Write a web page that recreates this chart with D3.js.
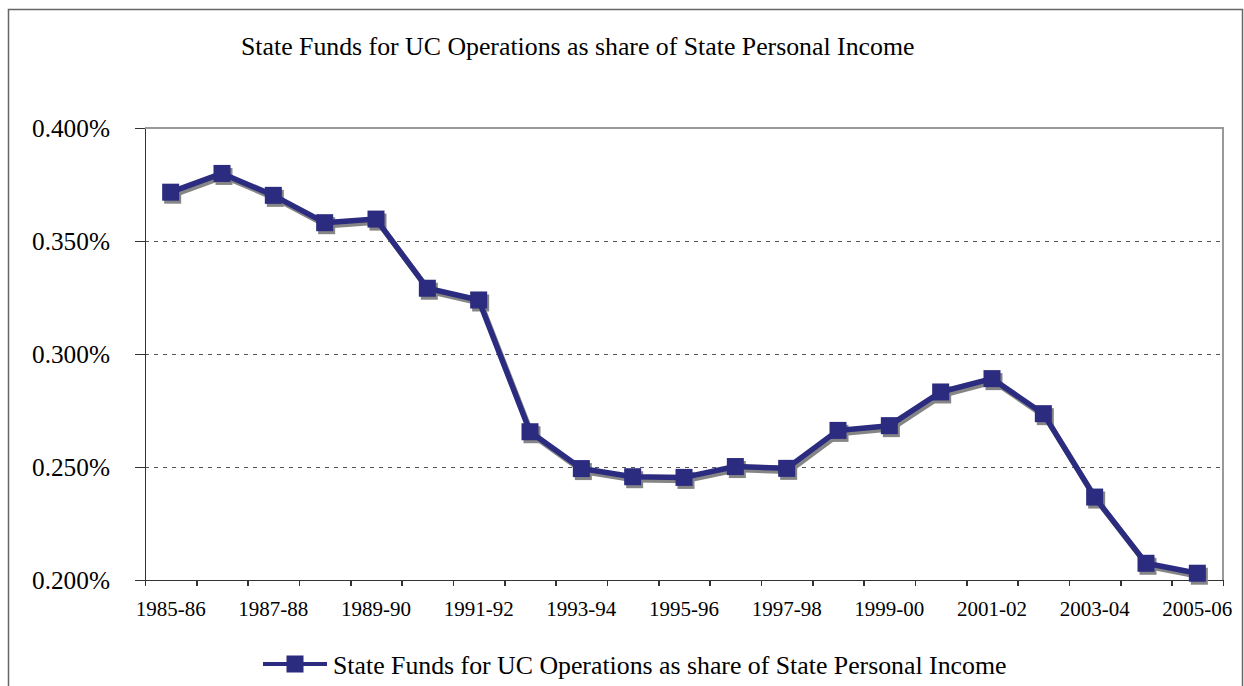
<!DOCTYPE html>
<meta charset="utf-8">
<style>
body { margin: 0; background: #fff; }
.grid line { stroke: #555; stroke-dasharray: 4,5; stroke-width: 1; }
.axis path, .axis line { stroke: #333; stroke-width: 1.5; shape-rendering: crispEdges; }
</style>
<body>
<div id="plotHere"></div>
<script src="https://cdn.jsdelivr.net/npm/d3@7"></script>
<script>
// ---------------- data ----------------
const title = "State Funds for UC Operations as share of State Personal Income";
const years = ["1985-86","1986-87","1987-88","1988-89","1989-90","1990-91","1991-92",
               "1992-93","1993-94","1994-95","1995-96","1996-97","1997-98","1998-99",
               "1999-00","2000-01","2001-02","2002-03","2003-04","2004-05","2005-06"];
// percent of state personal income
const share = [0.3716, 0.3799, 0.3702, 0.3581, 0.3597, 0.3291, 0.3239,
               0.2656, 0.2493, 0.2457, 0.2454, 0.2502, 0.2494, 0.2662,
               0.2683, 0.2832, 0.2891, 0.2736, 0.2367, 0.2074, 0.2030];
const yTicks = [0.200, 0.250, 0.300, 0.350, 0.400];

// ---------------- svg ----------------
const W = 1244, H = 686;
const plot = {left: 145, right: 1223, top: 128, bottom: 580};
const serif = "'Liberation Serif'";

const svg = d3.select("#plotHere").append("svg")
    .attr("width", W)
    .attr("height", H);

// outer frame
svg.append("rect")
    .attr("x", 8.5).attr("y", 9.5)
    .attr("width", 1234).attr("height", 700)
    .attr("fill", "none")
    .attr("stroke", "#666")
    .attr("stroke-width", 1.5);

// scales
const x = d3.scaleBand().domain(years).range([plot.left, plot.right]).padding(0);
const xi = d3.scaleLinear().domain([0, years.length]).range([plot.left, plot.right]);
const y = d3.scaleLinear().domain([0.2, 0.4]).range([plot.bottom, plot.top]);
const cx = d => x(d) + x.bandwidth() / 2;

// dashed gridlines
svg.append("g")
    .attr("class", "grid")
    .attr("transform", "translate(" + plot.left + ",0)")
    .call(d3.axisRight(y).tickValues([0.25, 0.30, 0.35]).tickSize(plot.right - plot.left).tickFormat(""))
    .call(g => g.select(".domain").remove());

// plot frame top + right (grey)
svg.append("path")
    .attr("d", "M" + plot.left + "," + plot.top + "H" + plot.right + "V" + plot.bottom)
    .attr("fill", "none")
    .attr("stroke", "#999")
    .attr("stroke-width", 2);

// y axis
const yAxis = svg.append("g")
    .attr("class", "axis")
    .attr("transform", "translate(" + plot.left + ",0)")
    .call(d3.axisLeft(y).tickValues(yTicks).tickSize(10).tickSizeOuter(0).tickPadding(25)
        .tickFormat(d => d3.format(".3f")(d) + "%"));
yAxis.selectAll("text")
    .style("font-family", serif).style("font-size", "25.3px")
    .attr("fill", "#000").attr("dy", "0.34em");

// x axis tick marks at category boundaries
svg.append("g")
    .attr("class", "axis")
    .attr("transform", "translate(0," + plot.bottom + ")")
    .call(d3.axisBottom(xi).tickValues(d3.range(years.length + 1)).tickSize(6).tickSizeOuter(0).tickFormat(""));

// x labels, every other year
const xAxis = svg.append("g")
    .attr("transform", "translate(0," + plot.bottom + ")")
    .call(d3.axisBottom(x).tickSize(0).tickPadding(21)
        .tickFormat((d, i) => i % 2 === 0 ? d : ""));
xAxis.select(".domain").remove();
xAxis.selectAll("text")
    .style("font-family", serif).style("font-size", "21px").attr("fill", "#000");

// title
svg.append("text")
    .attr("x", 241).attr("y", 55)
    .style("font-family", serif)
    .style("font-size", "25.8px")
    .text(title);

// ---------------- line ----------------
const navy = "#2b2b7f", shade = "#858585";
const line = d3.line().x((d, i) => cx(years[i])).y(d => y(d));
const ms = 17;

// shadow
const sh = svg.append("g").attr("transform", "translate(2,3)");
sh.append("path").datum(share)
    .attr("d", line).attr("fill", "none")
    .attr("stroke", shade).attr("stroke-width", 5.5).attr("stroke-linejoin", "round");
sh.selectAll("rect").data(share).join("rect")
    .attr("x", (d, i) => cx(years[i]) - ms / 2)
    .attr("y", d => y(d) - ms / 2)
    .attr("width", ms).attr("height", ms)
    .attr("fill", shade);

// series
svg.append("path").datum(share)
    .attr("d", line).attr("fill", "none")
    .attr("stroke", navy).attr("stroke-width", 5.5).attr("stroke-linejoin", "round");
svg.append("g").selectAll("rect").data(share).join("rect")
    .attr("x", (d, i) => cx(years[i]) - ms / 2)
    .attr("y", d => y(d) - ms / 2)
    .attr("width", ms).attr("height", ms)
    .attr("fill", navy);

// ---------------- legend ----------------
const lg = svg.append("g");
lg.append("line")
    .attr("x1", 263).attr("x2", 327).attr("y1", 664).attr("y2", 664)
    .attr("stroke", navy).attr("stroke-width", 4);
lg.append("rect")
    .attr("x", 295 - ms / 2).attr("y", 664 - ms / 2)
    .attr("width", ms).attr("height", ms)
    .attr("fill", navy);
lg.append("text")
    .attr("x", 333).attr("y", 674)
    .style("font-family", serif)
    .style("font-size", "25.8px")
    .text(title);
</script>
</body>
